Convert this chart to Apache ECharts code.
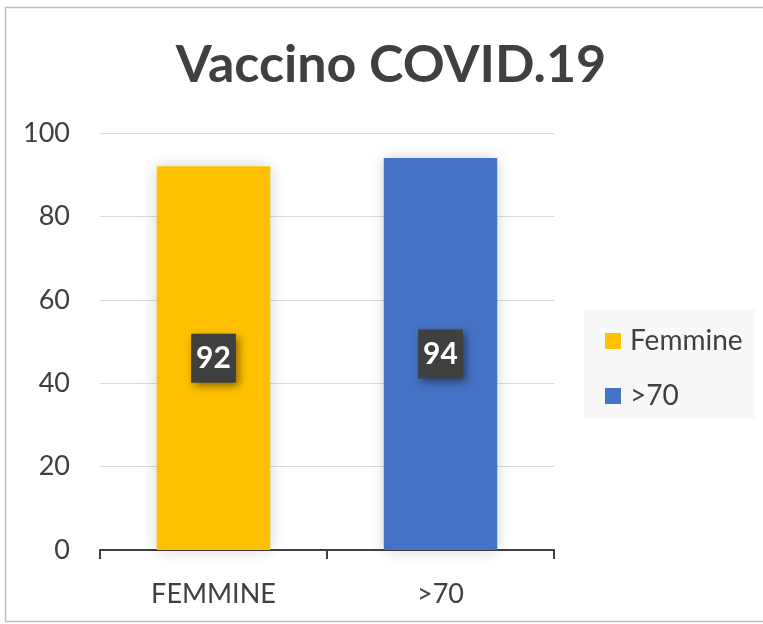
<!DOCTYPE html>
<html>
<head>
<meta charset="utf-8">
<script src="https://cdn.jsdelivr.net/npm/echarts@6/dist/echarts.min.js"></script>
<style>
  html, body { margin: 0; padding: 0; background: #fff; }
  #chart { width: 763px; height: 624px; }
</style>
</head>
<body>
<div id="chart"></div>
<script>
// dati del grafico
var categories = ['FEMMINE', '>70']
var seriesNames = ['Femmine', '>70']
var values = [92, 94]
var colors = ['#FFC000', '#4472C4']
var yTicks = { min: 0, max: 100, interval: 20 }

var chart = echarts.init(document.getElementById('chart'))

var series = seriesNames.map(function (name, i) {
  return {
    name: name,
    type: 'bar',
    barWidth: '50%',
    barGap: '-100%',
    data: categories.map(function (c, j) { return j === i ? values[j] : null }),
    itemStyle: {
      color: colors[i],
      shadowBlur: 14,
      shadowColor: 'rgba(0,0,0,0.18)'
    },
    label: {
      show: true,
      position: 'inside',
      color: '#fff',
      fontFamily: 'Lato',
      fontWeight: 'bold',
      fontSize: 30,
      lineHeight: 32,
      backgroundColor: '#404040',
      padding: [10, 5, 7, 5],
      shadowBlur: 8,
      shadowOffsetX: 3,
      shadowOffsetY: 3,
      shadowColor: 'rgba(0,0,0,0.45)'
    }
  }
})

chart.setOption({
  animation: false,
  graphic: [{
    type: 'rect',
    shape: { x: 5.5, y: 7.5, width: 760, height: 614 },
    style: { fill: 'none', stroke: '#bfbfbf', lineWidth: 1.5 },
    z: -10
  }, {
    type: 'rect',
    shape: { x: 584, y: 309, width: 171, height: 110 },
    style: { fill: '#f8f8f8' },
    z: -5
  }],
  title: {
    text: 'Vaccino COVID.19',
    left: 386,
    top: 34,
    textAlign: 'center',
    textStyle: {
      color: '#404040',
      fontFamily: 'Lato',
      fontWeight: 'bold',
      fontSize: 52
    }
  },
  legend: {
    orient: 'vertical',
    left: 600,
    top: 322,
    itemWidth: 16,
    itemHeight: 16,
    itemGap: 27,
    icon: 'rect',
    textStyle: { color: '#404040', fontFamily: 'Lato', fontSize: 28, padding: [0, 0, 0, 4] }
  },
  grid: { left: 100, right: 209, top: 133, bottom: 74 },
  xAxis: {
    type: 'category',
    data: categories,
    axisLine: { lineStyle: { color: '#404040', width: 2 } },
    axisTick: { show: true, length: 9, lineStyle: { color: '#404040', width: 2 } },
    axisLabel: { color: '#404040', fontFamily: 'Lato', fontSize: 27, margin: 31 }
  },
  yAxis: {
    type: 'value',
    min: yTicks.min,
    max: yTicks.max,
    interval: yTicks.interval,
    axisLine: { show: false },
    axisTick: { show: false },
    axisLabel: { color: '#404040', fontFamily: 'Lato', fontSize: 27, margin: 30 },
    splitLine: { lineStyle: { color: '#d9d9d9', width: 1 } }
  },
  series: series
})
</script>
</body>
</html>
